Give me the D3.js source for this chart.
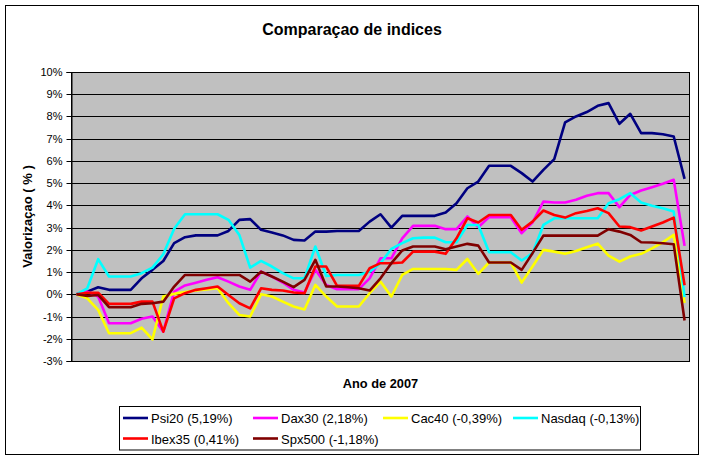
<!DOCTYPE html>
<html><head><meta charset="utf-8">
<script src="https://cdn.jsdelivr.net/npm/d3@7"></script>
<style>
html,body{margin:0;padding:0;background:#fff;}
svg{display:block;font-family:Arial,"Liberation Sans",sans-serif;}
</style></head>
<body><svg id="c" width="706" height="460"></svg>
<script>
const title = "Comparaçao de indices";
const xTitle = "Ano de 2007";
const yTitle = "Valorizaçao ( % )";
const categories = d3.range(1, 58); // 57 unlabeled periods of 2007
const yTicks = [-3,-2,-1,0,1,2,3,4,5,6,7,8,9,10];

const seriesNames = ["Psi20 (5,19%)","Dax30 (2,18%)","Cac40 (-0,39%)","Nasdaq (-0,13%)","Ibex35 (0,41%)","Spx500 (-1,18%)"];
const seriesColors = ["#000080","#FF00FF","#FFFF00","#00FFFF","#FF0000","#800000"];

const psi20 = [0,0.12,0.32,0.2,0.2,0.2,0.72,1.1,1.5,2.3,2.57,2.65,2.65,2.65,2.85,3.35,3.38,2.9,2.78,2.65,2.45,2.42,2.82,2.82,2.85,2.85,2.85,3.27,3.6,3.0,3.53,3.53,3.53,3.53,3.68,4.1,4.77,5.07,5.78,5.78,5.78,5.45,5.07,5.6,6.08,7.73,8.0,8.2,8.48,8.6,7.67,8.12,7.25,7.25,7.2,7.1,5.19];
const dax30 = [0,0.12,-0.1,-1.3,-1.3,-1.3,-1.1,-1.0,-1.68,0.12,0.4,0.52,0.65,0.77,0.57,0.35,0.2,1.02,0.8,0.53,0.2,0.08,1.1,0.42,0.23,0.23,0.23,0.72,1.62,1.62,2.52,3.08,3.08,3.08,2.93,2.93,3.5,3.02,3.47,3.47,3.47,2.75,3.23,4.17,4.13,4.13,4.25,4.43,4.55,4.55,3.92,4.47,4.67,4.82,4.97,5.15,2.18];
const cac40 = [0,-0.18,-0.7,-1.75,-1.75,-1.75,-1.5,-2.03,-0.1,0.02,0.1,0.17,0.22,0.27,-0.4,-0.93,-1.0,0.0,-0.1,-0.33,-0.55,-0.68,0.42,-0.1,-0.55,-0.55,-0.55,0.05,0.57,-0.1,0.87,1.14,1.14,1.14,1.14,1.1,1.59,0.92,1.43,1.43,1.43,0.53,1.25,2.0,1.92,1.82,1.95,2.12,2.28,1.74,1.47,1.7,1.82,2.07,2.34,2.67,-0.39];
const nasdaq = [0,0.27,1.58,0.8,0.8,0.8,0.95,1.2,1.8,2.95,3.6,3.6,3.6,3.6,3.35,2.67,1.2,1.5,1.25,0.95,0.72,0.72,2.15,0.83,0.87,0.87,0.87,1.02,1.4,2.04,2.3,2.52,2.55,2.55,2.34,2.34,3.12,3.12,1.89,1.89,1.89,1.52,1.85,3.12,3.42,3.42,3.42,3.42,3.42,4.1,4.28,4.55,4.13,3.98,3.87,3.72,-0.13];
const ibex35 = [0,0.07,0.07,-0.43,-0.43,-0.43,-0.33,-0.33,-1.68,-0.18,0.05,0.2,0.27,0.35,-0.03,-0.4,-0.63,0.27,0.2,0.17,0.08,0.05,1.25,1.25,0.38,0.38,0.38,1.17,1.4,1.4,1.43,1.92,1.92,1.92,1.82,2.52,3.42,3.23,3.57,3.57,3.57,2.9,3.27,3.77,3.57,3.45,3.65,3.75,3.87,3.65,3.05,3.02,2.87,3.05,3.23,3.45,0.41];
const spx500 = [0,-0.07,-0.03,-0.58,-0.58,-0.58,-0.43,-0.4,-0.33,0.35,0.87,0.87,0.87,0.87,0.87,0.87,0.57,1.02,0.8,0.57,0.32,0.65,1.55,0.35,0.35,0.32,0.27,0.17,0.72,1.4,1.97,2.15,2.15,2.15,2.03,2.15,2.27,2.19,1.43,1.43,1.43,1.1,1.85,2.64,2.64,2.64,2.64,2.64,2.64,2.93,2.82,2.67,2.34,2.33,2.3,2.25,-1.18];

const seriesValues = [psi20, dax30, cac40, nasdaq, ibex35, spx500];

const svg = d3.select("#c");
// outer chart border
svg.append("rect").attr("x",5.5).attr("y",5.5).attr("width",693).attr("height",449)
  .attr("fill","#fff").attr("stroke","#000").attr("stroke-width",1);

const plot = {left:71, right:690, top:72, bottom:361};
const x = d3.scaleBand().domain(categories).range([plot.left, plot.right]).paddingInner(0).paddingOuter(0);
const y = d3.scaleLinear().domain([-3,10]).range([plot.bottom, plot.top]);
const cx = c => x(c) + x.bandwidth()/2;

svg.append("rect").attr("x",plot.left).attr("y",plot.top)
  .attr("width",plot.right-plot.left).attr("height",plot.bottom-plot.top)
  .attr("fill","#C0C0C0");

// gridlines
svg.append("g").selectAll("line").data(yTicks).join("line")
  .attr("x1",plot.left).attr("x2",plot.right)
  .attr("y1",d=>Math.round(y(d))+0.5).attr("y2",d=>Math.round(y(d))+0.5)
  .attr("stroke","#000").attr("stroke-width",1);

// plot border
svg.append("rect").attr("x",plot.left+0.5).attr("y",plot.top+0.5)
  .attr("width",plot.right-plot.left-1).attr("height",plot.bottom-plot.top)
  .attr("fill","none").attr("stroke","#000").attr("stroke-width",1);

// y axis
const yAxis = d3.axisLeft(y).tickValues(yTicks).tickSize(5).tickPadding(4)
  .tickFormat(d => d + "%");
const ga = svg.append("g").attr("transform",`translate(${plot.left+0.5},0)`).call(yAxis);
ga.select(".domain").attr("stroke","#000");
ga.selectAll(".tick line").attr("stroke","#000");
ga.selectAll(".tick").attr("transform", d => `translate(0,${Math.round(y(d))+0.5})`);
ga.selectAll("text").attr("font-size","11px").attr("font-family","Arial, 'Liberation Sans', sans-serif").attr("fill","#000");

// lines
const line = d3.line().x((v,i)=>cx(categories[i])).y(v=>y(v));
svg.append("g").selectAll("path").data(seriesValues).join("path")
  .attr("d", d=>line(d)).attr("fill","none")
  .attr("stroke",(d,i)=>seriesColors[i]).attr("stroke-width",2.6)
  .attr("stroke-linejoin","round").attr("stroke-linecap","butt");

// titles
svg.append("text").attr("x",352).attr("y",34.5).attr("text-anchor","middle")
  .attr("font-size","16px").attr("font-weight","bold").text(title);
svg.append("text").attr("x",(plot.left+plot.right)/2).attr("y",387.5).attr("text-anchor","middle")
  .attr("font-size","12.8px").attr("font-weight","bold").text(xTitle);
svg.append("text").attr("transform",`translate(31.5,${(plot.top+plot.bottom)/2}) rotate(-90)`)
  .attr("text-anchor","middle").attr("font-size","13px").attr("font-weight","bold").text(yTitle);

// legend
svg.append("rect").attr("x",119.5).attr("y",406.5).attr("width",521).attr("height",43.5)
  .attr("fill","#fff").attr("stroke","#000");
const legX = [123,253,383,513];
const legY = [418,438.5];
const lg = svg.append("g").selectAll("g").data(seriesNames).join("g")
  .attr("transform",(d,i)=>`translate(${legX[i%4]},${legY[Math.floor(i/4)]})`);
lg.append("line").attr("x1",0).attr("x2",25).attr("y1",0).attr("y2",0)
  .attr("stroke",(d,i)=>seriesColors[i]).attr("stroke-width",2.6);
lg.append("text").attr("x",28).attr("y",5).attr("font-size","13px").text(d=>d);
</script></body></html>
